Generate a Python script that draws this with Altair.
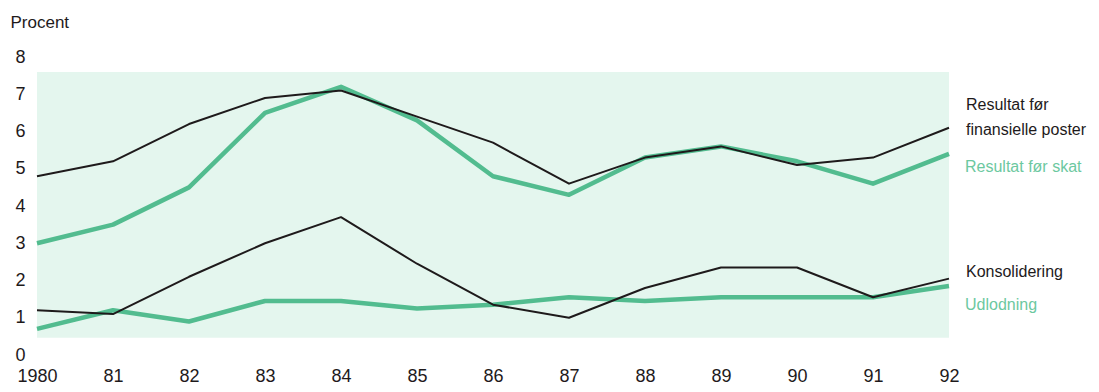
import altair as alt
import pandas as pd

years = list(range(1980, 1993))
tick_labels = ["1980", "81", "82", "83", "84", "85", "86", "87", "88", "89", "90", "91", "92"]
y_ticks = [0, 1, 2, 3, 4, 5, 6, 7, 8]

res_fin = [4.8, 5.2, 6.2, 6.9, 7.1, 6.4, 5.7, 4.6, 5.3, 5.6, 5.1, 5.3, 6.1]
res_skat = [3.0, 3.5, 4.5, 6.5, 7.2, 6.3, 4.8, 4.3, 5.3, 5.6, 5.2, 4.6, 5.4]
konsol = [1.2, 1.1, 2.1, 3.0, 3.7, 2.45, 1.35, 1.0, 1.8, 2.35, 2.35, 1.55, 2.05]
udlod = [0.7, 1.2, 0.9, 1.45, 1.45, 1.25, 1.35, 1.55, 1.45, 1.55, 1.55, 1.55, 1.85]

series_names = ["Resultat før finansielle poster", "Resultat før skat", "Konsolidering", "Udlodning"]
series_vals = [res_fin, res_skat, konsol, udlod]
series_kind = ["black", "green", "black", "green"]

label_texts = [["Resultat før", "finansielle poster"], ["Resultat før skat"], ["Konsolidering"], ["Udlodning"]]
label_y = [6.71, 5.04, 2.22, 1.34]
label_kind = ["black", "green", "black", "green"]

band_x = [1980, 1992]
band_y = [0.46, 7.6]

BLACK = "#1e1a1b"
GREEN = "#52bc8f"
GREEN_TXT = "#6cc8a0"
FONT = "Liberation Sans"

rows = []
for name, vals, kind in zip(series_names, series_vals, series_kind):
    for yr, v in zip(years, vals):
        rows.append({"year": yr, "value": v, "series": name, "kind": kind})
df = pd.DataFrame(rows)

xscale = alt.Scale(domain=[1980, 1992], nice=False, zero=False)
yscale = alt.Scale(domain=[0, 8], nice=False)

label_expr = "{" + ",".join(f"'{y}':'{t}'" for y, t in zip(years, tick_labels)) + "}[datum.value]"

xaxis = alt.Axis(values=years, labelExpr=label_expr, title=None, ticks=False, domain=False,
                 grid=False, labelFontSize=18, labelPadding=12, labelColor=BLACK, labelFont=FONT,
                 labelFlush=False, labelOverlap=False, labelBaseline="top")
yaxis = alt.Axis(values=y_ticks, tickCount=9, title="Procent", titleAngle=0, titleX=-27, titleY=-35,
                 titleAlign="left", titleBaseline="middle", titleFontSize=17, titleFontWeight="normal",
                 titleColor=BLACK, titleFont=FONT, labelOverlap=False,
                 ticks=False, domain=False, grid=False, labelFontSize=18, labelPadding=12,
                 labelColor=BLACK, labelFont=FONT)

band = alt.Chart(pd.DataFrame({"x": [band_x[0]], "x2": [band_x[1]], "y": [band_y[0]], "y2": [band_y[1]]})).mark_rect(
    color="#e4f6ee"
).encode(
    x=alt.X("x:Q", scale=xscale, axis=xaxis),
    x2="x2:Q",
    y=alt.Y("y:Q", scale=yscale, axis=yaxis),
    y2="y2:Q",
)

green_lines = alt.Chart(df[df["kind"] == "green"]).mark_line(color=GREEN, strokeWidth=4.5, strokeJoin="round").encode(
    x=alt.X("year:Q", scale=xscale, axis=xaxis), y=alt.Y("value:Q", scale=yscale, axis=yaxis), detail="series:N"
)
black_lines = alt.Chart(df[df["kind"] == "black"]).mark_line(color=BLACK, strokeWidth=2, strokeJoin="round").encode(
    x=alt.X("year:Q", scale=xscale, axis=xaxis), y=alt.Y("value:Q", scale=yscale, axis=yaxis), detail="series:N"
)

lab_df = pd.DataFrame({"text": label_texts, "y": label_y, "kind": label_kind, "x": [1992] * 4})
labels_black = alt.Chart(lab_df[lab_df["kind"] == "black"]).mark_text(
    align="left", baseline="middle", dx=17, fontSize=16, font=FONT, color=BLACK, lineHeight=25
).encode(x=alt.X("x:Q", scale=xscale, axis=xaxis), y=alt.Y("y:Q", scale=yscale, axis=yaxis), text="text")
labels_green = alt.Chart(lab_df[lab_df["kind"] == "green"]).mark_text(
    align="left", baseline="middle", dx=16, fontSize=16, font=FONT, color=GREEN_TXT
).encode(x=alt.X("x:Q", scale=xscale, axis=xaxis), y=alt.Y("y:Q", scale=yscale, axis=yaxis), text="text")

chart = alt.layer(band, green_lines, black_lines, labels_black, labels_green).properties(
    width=912, height=298,
    autosize=alt.AutoSizeParams(type="none"),
    padding={"left": 29, "top": 49, "right": 142, "bottom": 29},
    background="white",
).configure_view(stroke=None)

chart.save("out.html", embed_options={"renderer": "svg", "actions": False})
